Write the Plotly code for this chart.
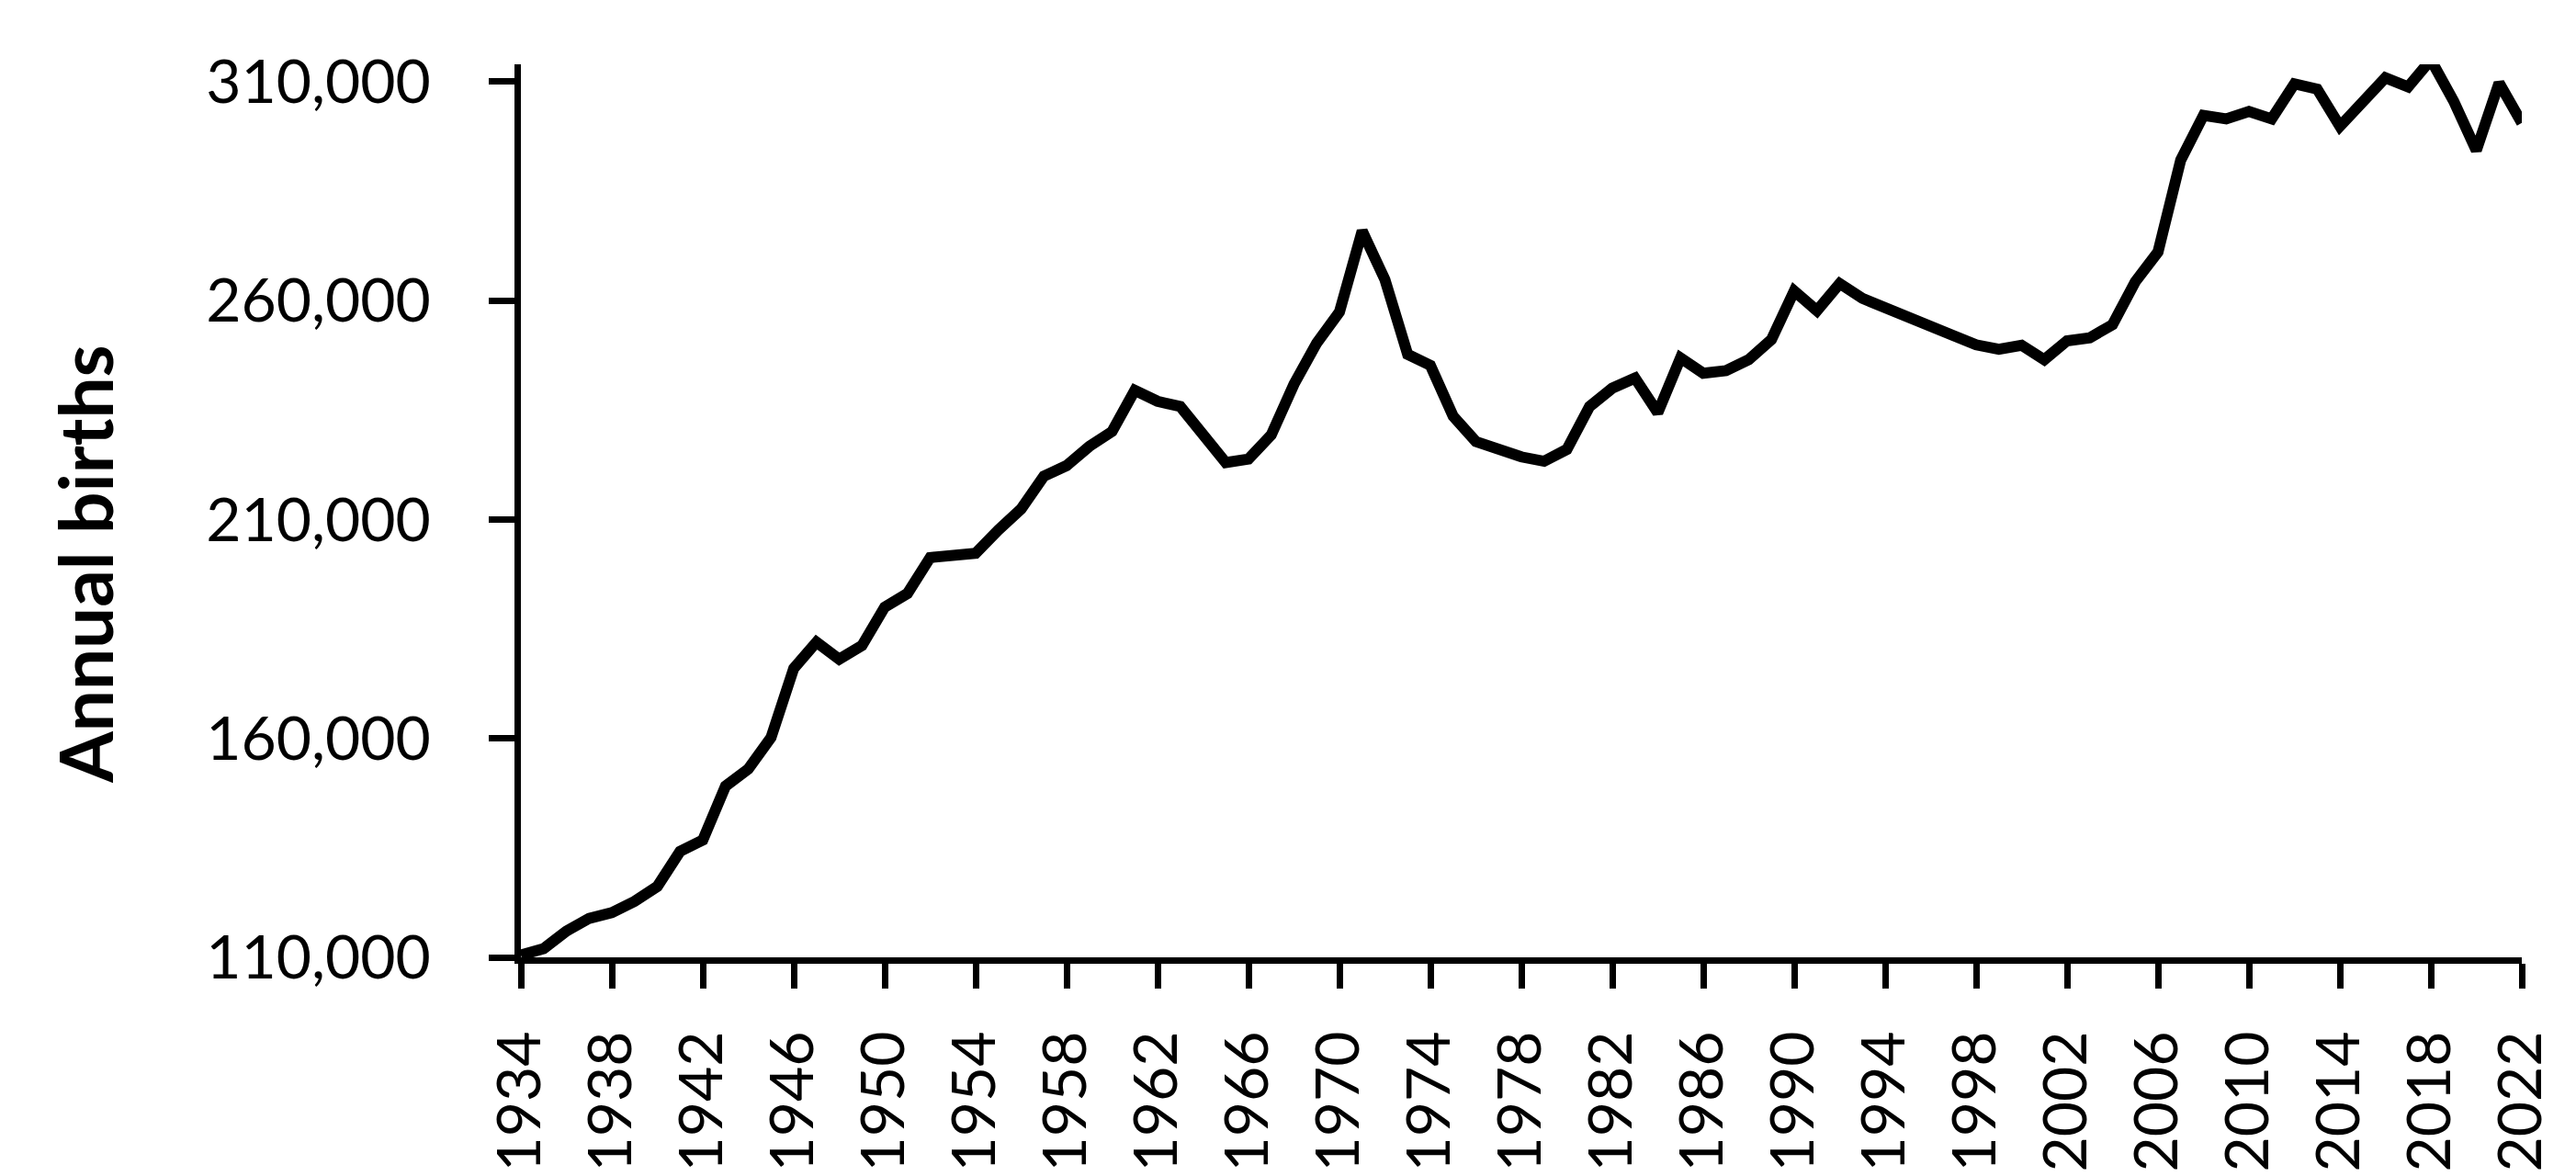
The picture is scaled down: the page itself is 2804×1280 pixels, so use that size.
import plotly.graph_objects as go

years = list(range(1934, 2023))
births = [
    110500, 112000, 116000, 118900, 120200, 122800, 126200, 134200, 136800, 149100,  # 1934-1943
    153000, 160200, 176000, 182000, 178100, 181200, 190000, 193100, 201300, 202000,  # 1944-1953
    202300, 207600, 212400, 219900, 222300, 226700, 230100, 239500, 237000, 235800,  # 1954-1963
    228900, 223000, 223800, 229300, 240900, 250300, 257400, 275900, 264800, 247700,  # 1964-1973
    245200, 233600, 227800, 226000, 224300, 223300, 226000, 235800, 240000, 242300,  # 1974-1983
    234400, 246900, 243400, 244000, 246500, 251100, 262200, 257700, 263900, 260500,  # 1984-1993
    258500, 256600, 254000, 252000, 249900, 248900, 249800, 246500, 250800, 251500,  # 1994-2003
    254500, 264300, 271100, 292100, 302300, 301500, 303200, 301500, 309500, 308300,  # 2004-2013
    299800, 305400, 310900, 308800, 315000, 305600, 294300, 309700, 300600,          # 2014-2022
]

x_tickvals = list(range(1934, 2023, 4))
y_tickvals = [110000, 160000, 210000, 260000, 310000]
y_ticktext = ["110,000", "160,000", "210,000", "260,000", "310,000"]
y_title = "Annual births"

fig = go.Figure()
fig.add_trace(go.Scatter(
    x=years, y=births, mode="lines",
    line=dict(color="black", width=12),
    hoverinfo="skip",
))

W, H = 2804, 1280
L, R, T, B = 559, 67, 62, 240

tick_font = dict(family="Lato, Carlito, Calibri, sans-serif", size=66, color="black")

fig.update_layout(
    width=W, height=H,
    margin=dict(l=L, r=R, t=T, b=B, pad=0),
    paper_bgcolor="white", plot_bgcolor="white",
    showlegend=False,
    xaxis=dict(
        range=[1934, 2022], tickmode="array", tickvals=x_tickvals,
        ticktext=[str(v) for v in x_tickvals],
        tickangle=-90, ticks="outside", ticklen=27, tickwidth=7, tickcolor="black",
        showline=True, linecolor="black", linewidth=7,
        showgrid=False, zeroline=False, tickfont=tick_font,
        ticklabelstandoff=20,
    ),
    yaxis=dict(
        range=[110000, 313960], tickmode="array", tickvals=y_tickvals, ticktext=y_ticktext,
        ticks="outside", ticklen=28, tickwidth=7, tickcolor="black",
        showline=True, linecolor="black", linewidth=7,
        showgrid=False, zeroline=False, tickfont=tick_font,
        ticklabelstandoff=50,
    ),
    annotations=[dict(
        text=y_title, textangle=-90, showarrow=False,
        xref="paper", yref="paper",
        x=(84 - L) / (W - L - R), y=(H - B - 610) / (H - B - T),
        xanchor="center", yanchor="middle",
        font=dict(family="Lato, Carlito, Calibri, sans-serif", size=80, color="black", weight="bold"),
    )],
)

fig.write_html("out.html")
